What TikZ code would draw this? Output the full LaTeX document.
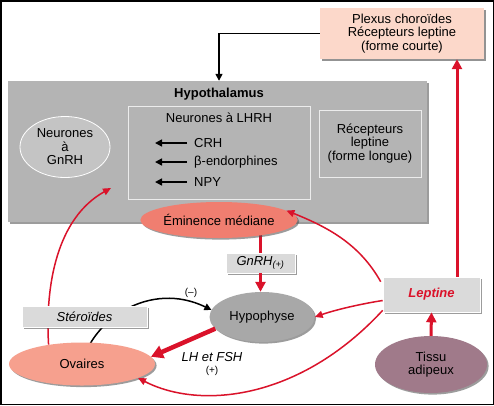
\documentclass[tikz,border=0pt]{standalone}
\usepackage{fontspec}
\setmainfont{Liberation Sans}
\usetikzlibrary{arrows.meta,shadows,backgrounds,shapes.geometric}
\definecolor{hgrey}{RGB}{180,180,180}
\definecolor{lgrey}{RGB}{218,218,218}
\definecolor{egrey}{RGB}{196,196,196}
\definecolor{pgrey}{RGB}{168,168,168}
\definecolor{plexc}{RGB}{252,216,202}
\definecolor{eminc}{RGB}{240,126,112}
\definecolor{ovac}{RGB}{246,160,142}
\definecolor{tissc}{RGB}{160,122,138}
\definecolor{myred}{RGB}{218,18,42}
\tikzset{
  base/.style={font=\fontsize{13}{13.5}\selectfont, align=center, inner sep=0pt},
  shad/.style={drop shadow={shadow xshift=1.6pt,shadow yshift=-1.6pt,opacity=0.55,fill=black!70}},
  gbox/.style={base, rectangle, fill=lgrey, draw=white, line width=0.6pt, shad},
  ell/.style={base, ellipse, shad},
  redthin/.style={draw=myred, line width=1.5pt, -{Triangle[length=8pt,width=7pt]}},
  redthick/.style={draw=myred, line width=3pt, -{Triangle[length=10pt,width=10pt]}},
  redfat/.style={draw=myred, line width=4.5pt, -{Triangle[length=12pt,width=13pt]}},
  blk/.style={draw=black, line width=1.5pt, -{Triangle[length=7pt,width=7pt]}},
  lab/.style={font=\fontsize{13}{13.5}\selectfont, inner sep=0pt},
  small/.style={font=\fontsize{10}{11}\selectfont, inner sep=0pt},
}
\begin{document}
\begin{tikzpicture}[x=1pt,y=-1pt]
\useasboundingbox (0,0) rectangle (494,405);

% Plexus
\node[base, rectangle, fill=plexc, minimum width=164pt, minimum height=51pt,
      drop shadow={shadow xshift=1.8pt,shadow yshift=-1.8pt,opacity=0.6,fill=black!70}]
      (plexus) at (402,33.5) {Plexus choroïdes\\Récepteurs leptine\\(forme courte)};

% Hypothalamus
\node[base, rectangle, fill=hgrey, minimum width=419pt, minimum height=141pt, shad]
      (hypo) at (217.5,151.5) {};
\node[base, font=\fontsize{13}{13.5}\selectfont\bfseries] (hyptitle) at (219,94) {Hypothalamus};

\node[base, rectangle, fill=hgrey, draw=white!85!gray, line width=0.8pt,
      minimum width=182pt, minimum height=93pt] (lhrh) at (219,152.5) {};
\node[lab] (lhrhtitle) at (219,118) {Neurones à LHRH};
\node[lab, anchor=west] (crh) at (194,143) {CRH};
\node[lab, anchor=west] (endo) at (194,162) {β-endorphines};
\node[lab, anchor=west] (npy) at (194,182) {NPY};
\coordinate (t1) at (155,143);
\coordinate (t2) at (155,162);
\coordinate (t3) at (155,182);
\draw[blk] ([xshift=-7pt]crh.west) -- (t1);
\draw[blk] ([xshift=-7pt]endo.west) -- (t2);
\draw[blk] ([xshift=-7pt]npy.west) -- (t3);

\node[base, rectangle, fill=hgrey, draw=white!85!gray, line width=0.8pt,
      minimum width=102pt, minimum height=67pt] (recep) at (370,143.5)
      {Récepteurs\\leptine\\(forme longue)};

\node[base, ellipse, fill=egrey, draw=white, line width=0.8pt,
      minimum width=90pt, minimum height=61pt] (gnrhn) at (65,147) {Neurones\\à\\GnRH};

% Eminence
\node[ell, fill=eminc, minimum width=155pt, minimum height=36pt] (emin) at (219,220) {Éminence médiane};

\node[gbox, minimum width=69pt, minimum height=20pt] (gnrhbox) at (260.5,263)
      {\itshape GnRH\textsubscript{(+)}};

\node[ell, fill=pgrey, minimum width=105pt, minimum height=50pt] (hypoph) at (262,317) {Hypophyse};

\node[ell, fill=ovac, minimum width=146pt, minimum height=43pt] (ova) at (82,364) {Ovaires};

\node[gbox, minimum width=97pt, minimum height=35pt] (lep) at (431.5,294.5)
      {\color{myred}\bfseries\itshape Leptine};

\node[ell, fill=tissc, minimum width=112pt, minimum height=57pt] (tissu) at (431,364.5) {Tissu\\adipeux};

\node[lab, font=\fontsize{13}{13.5}\selectfont\itshape] (lhfsh) at (212,357) {LH et FSH};
\node[small] (plus) at (212,371) {(+)};
\node[small] (minus) at (191,293) {(–)};

% background and connectors behind
\begin{pgfonlayer}{background}
\fill[white] (0,0) rectangle (494,405);
\draw[draw=myred, line width=3pt] (gnrhbox.north) -- (gnrhbox.north |- emin.center);
\draw[blk] (ova.center) .. controls (92,320) and (150,280) .. (hypoph.172);
\end{pgfonlayer}
\draw[black, line width=1.5pt] (0.75,0.75) rectangle (493.25,404.25);

% black arrow plexus -> hypothalamus
\draw[blk] (plexus.west) -| (hypo.north -| hyptitle.north);

% red connectors
\draw[redthick] (gnrhbox.south) -- (gnrhbox.south |- hypoph.north);
\draw[redfat] (hypoph.194) -- (ova.6);
\coordinate (gtip) at (111,188);
\draw[redthin] (ova.150) .. controls (45,285) and (57,218) .. (gtip);
\draw[redthick] (tissu.north) -- (lep.south);
\draw[redthick] ([xshift=25.5pt]lep.north) -- ([xshift=25.5pt]lep.north |- plexus.south);
\draw[redthin] ([xshift=-2pt,yshift=-5pt]lep.north west) .. controls (360,245) and (330,228) .. (emin.8);
\draw[redthin] ([yshift=-6pt]lep.west) .. controls (360,304) and (335,310) .. (hypoph.east);
\draw[redthin] ([yshift=2pt]lep.south west) .. controls (300,400) and (200,410) .. (ova.-14);

% Steroides box drawn over the connectors that pass behind it
\node[gbox, minimum width=125pt, minimum height=21pt] (ster) at (84.5,316.5) {\itshape Stéroïdes};
\end{tikzpicture}
\end{document}
